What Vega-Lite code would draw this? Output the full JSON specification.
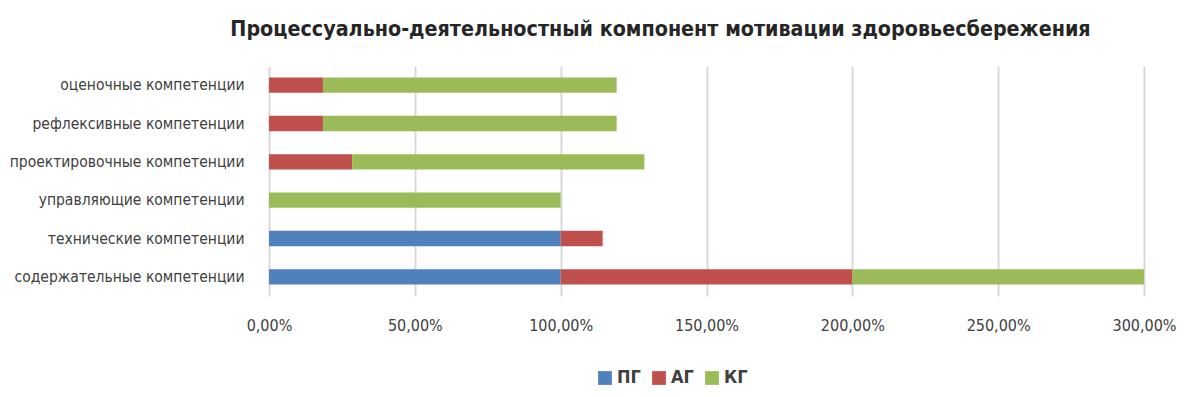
{
  "$schema": "https://vega.github.io/schema/vega-lite/v6.json",
  "width": 875,
  "height": 230,
  "autosize": {"type": "none"},
  "padding": {"left": 269, "top": 66, "right": 54, "bottom": 101},
  "background": "white",
  "title": {
    "text": "Процессуально-деятельностный компонент мотивации здоровьесбережения",
    "font": "DejaVu Sans Condensed",
    "fontSize": 21.3,
    "fontWeight": "bold",
    "color": "#262626",
    "anchor": "middle",
    "dx": -46,
    "offset": 26
  },
  "data": {
    "values": [
      {"cat": "оценочные компетенции", "group": "ПГ", "ord": 1, "value": 0},
      {"cat": "оценочные компетенции", "group": "АГ", "ord": 2, "value": 18.5},
      {"cat": "оценочные компетенции", "group": "КГ", "ord": 3, "value": 100.7},
      {"cat": "рефлексивные компетенции", "group": "ПГ", "ord": 1, "value": 0},
      {"cat": "рефлексивные компетенции", "group": "АГ", "ord": 2, "value": 18.5},
      {"cat": "рефлексивные компетенции", "group": "КГ", "ord": 3, "value": 100.7},
      {"cat": "проектировочные компетенции", "group": "ПГ", "ord": 1, "value": 0},
      {"cat": "проектировочные компетенции", "group": "АГ", "ord": 2, "value": 28.5},
      {"cat": "проектировочные компетенции", "group": "КГ", "ord": 3, "value": 100.2},
      {"cat": "управляющие компетенции", "group": "ПГ", "ord": 1, "value": 0},
      {"cat": "управляющие компетенции", "group": "АГ", "ord": 2, "value": 0},
      {"cat": "управляющие компетенции", "group": "КГ", "ord": 3, "value": 100},
      {"cat": "технические компетенции", "group": "ПГ", "ord": 1, "value": 100},
      {"cat": "технические компетенции", "group": "АГ", "ord": 2, "value": 14.4},
      {"cat": "технические компетенции", "group": "КГ", "ord": 3, "value": 0},
      {"cat": "содержательные компетенции", "group": "ПГ", "ord": 1, "value": 100},
      {"cat": "содержательные компетенции", "group": "АГ", "ord": 2, "value": 100},
      {"cat": "содержательные компетенции", "group": "КГ", "ord": 3, "value": 100}
    ]
  },
  "mark": {"type": "bar"},
  "encoding": {
    "y": {
      "field": "cat",
      "type": "nominal",
      "sort": ["оценочные компетенции", "рефлексивные компетенции", "проектировочные компетенции", "управляющие компетенции", "технические компетенции", "содержательные компетенции"],
      "scale": {"paddingInner": 0.6, "paddingOuter": 0.3},
      "axis": {
        "title": null,
        "ticks": false,
        "domain": false,
        "labelFont": "DejaVu Sans Condensed",
        "labelFontSize": 15.5,
        "labelColor": "#404040",
        "labelPadding": 25,
        "labelLimit": 400
      }
    },
    "x": {
      "field": "value",
      "type": "quantitative",
      "stack": "zero",
      "scale": {"domain": [0, 300], "nice": false},
      "axis": {
        "title": null,
        "values": [0, 50, 100, 150, 200, 250, 300],
        "labelExpr": "replace(format(datum.value, '.2f'), '.', ',') + '%'",
        "ticks": false,
        "domain": false,
        "grid": true,
        "gridColor": "#D9D9D9",
        "gridWidth": 2,
        "labelFont": "DejaVu Sans Condensed",
        "labelFontSize": 16,
        "labelColor": "#404040",
        "labelPadding": 21,
        "labelFlush": false
      }
    },
    "color": {
      "field": "group",
      "type": "nominal",
      "sort": ["ПГ", "АГ", "КГ"],
      "scale": {"domain": ["ПГ", "АГ", "КГ"], "range": ["#4F81BD", "#C0504D", "#9BBB59"]},
      "legend": {
        "title": null,
        "orient": "none",
        "direction": "horizontal",
        "legendX": 327,
        "legendY": 303,
        "symbolType": "square",
        "symbolSize": 190,
        "symbolStrokeWidth": 0,
        "labelFont": "DejaVu Sans Condensed",
        "labelFontSize": 18,
        "labelFontWeight": "bold",
        "labelColor": "#404040",
        "columnPadding": 9,
        "labelOffset": 3
      }
    },
    "order": {"field": "ord", "type": "quantitative"}
  },
  "config": {"view": {"stroke": null}}
}
